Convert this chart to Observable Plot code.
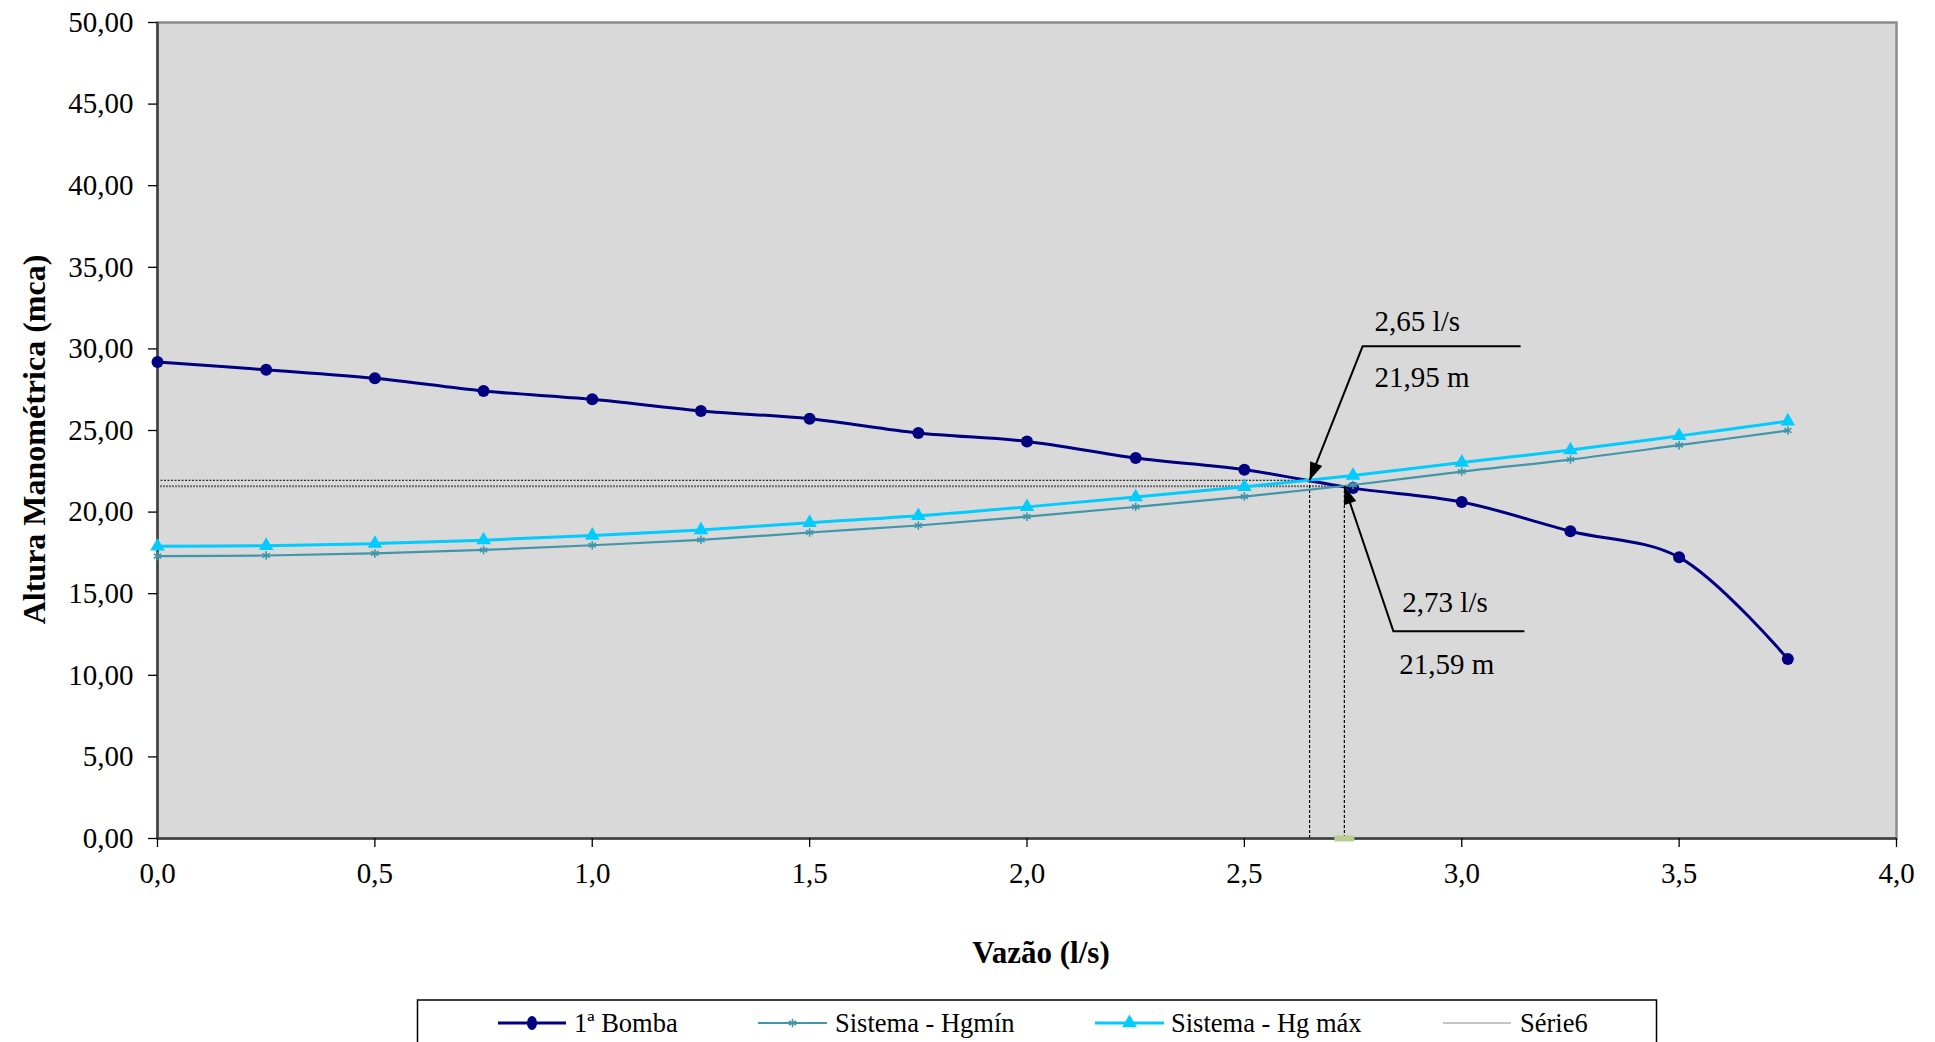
<!DOCTYPE html>
<html>
<head>
<meta charset="utf-8">
<script src="https://cdn.jsdelivr.net/npm/d3@7"></script>
<script src="https://cdn.jsdelivr.net/npm/@observablehq/plot@0.6"></script>
<style>
  html, body { margin: 0; padding: 0; background: #fff; }
  #chart svg { display: block; }
</style>
</head>
<body>
<div id="chart"></div>
<script>
// Flow rate (l/s) at which each curve was evaluated
const vazao = [0, 0.25, 0.5, 0.75, 1.0, 1.25, 1.5, 1.75, 2.0, 2.25, 2.5, 2.75, 3.0, 3.25, 3.5, 3.75];
// Pump head curve (mca)
const bomba = [29.20, 28.72, 28.20, 27.42, 26.91, 26.20, 25.72, 24.85, 24.33, 23.31, 22.60, 21.47, 20.62, 18.83, 17.23, 11.00];
// System curve, minimum geometric head (mca)
const hgMin = [17.30, 17.34, 17.47, 17.68, 17.97, 18.30, 18.75, 19.18, 19.72, 20.32, 20.95, 21.66, 22.48, 23.22, 24.10, 25.00];
// System curve, maximum geometric head (mca)
const hgMax = [17.90, 17.94, 18.07, 18.28, 18.57, 18.90, 19.35, 19.77, 20.32, 20.92, 21.55, 22.24, 23.04, 23.80, 24.67, 25.57];

// Operating points (pump x system intersections)
const opQ = [2.65, 2.73];
const opH = [21.95, 21.59];
const opQLabels = ["2,65 l/s", "2,73 l/s"];
const opHLabels = ["21,95 m", "21,59 m"];

// Axis ticks
const xTicks = [0, 0.5, 1.0, 1.5, 2.0, 2.5, 3.0, 3.5, 4.0];
const yTicks = [0, 5, 10, 15, 20, 25, 30, 35, 40, 45, 50];

const seriesNames = ["1ª Bomba", "Sistema - Hgmín", "Sistema - Hg máx", "Série6"];
const xTitle = "Vazão (l/s)";
const yTitle = "Altura Manométrica (mca)";

// ---- tables for the marks ----
const rows = vazao.map((q, i) => ({q, bomba: bomba[i], hgMin: hgMin[i], hgMax: hgMax[i]}));
const ops = opQ.map((q, i) => ({q, h: opH[i], qLabel: opQLabels[i], hLabel: opHLabels[i]}));

// ---- styling ----
const C_BOMBA = "#000080";
const C_MIN = "#4096aa";
const C_MAX = "#00ccff";
const SERIF = '"Liberation Serif", "Times New Roman", serif';
const comma = (d, n) => d.toFixed(n).replace(".", ",");

// Leader geometry of each operating-point callout, in pixels from the point
const callouts = [
  {knee: [53, -134], end: [211, -134], t1: [65, -159], t2: [65, -103]},
  {knee: [49, 145], end: [180, 145], t1: [58, 117], t2: [55, 179]}
];

// Custom symbols: a polyline leader and a filled arrowhead with its tip at the point
const polylineSymbol = pts => ({
  draw(ctx) {
    ctx.moveTo(0, 0);
    for (const [px, py] of pts) ctx.lineTo(px, py);
  }
});
const arrowHeadSymbol = ([kx, ky], L = 18, W = 6.5) => ({
  draw(ctx) {
    const len = Math.hypot(kx, ky), ux = kx / len, uy = ky / len;
    const bx = ux * L, by = uy * L;
    ctx.moveTo(0, 0);
    ctx.lineTo(bx - uy * W, by + ux * W);
    ctx.lineTo(bx + uy * W, by - ux * W);
    ctx.closePath();
  }
});
const flatMarker = {draw(ctx) { ctx.rect(-10, -3, 20, 6); }};

const calloutMarks = ops.flatMap((op, i) => {
  const c = callouts[i];
  return [
    Plot.dot([op], {x: "q", y: "h", symbol: polylineSymbol([c.knee, c.end]), fill: "none", stroke: "black", strokeWidth: 2, r: 5}),
    Plot.dot([op], {x: "q", y: "h", symbol: arrowHeadSymbol(c.knee), fill: "black", stroke: "none", r: 5}),
    Plot.text([op], {x: "q", y: "h", text: "qLabel", dx: c.t1[0], dy: c.t1[1], textAnchor: "start", lineAnchor: "middle", fontSize: 29, fill: "black"}),
    Plot.text([op], {x: "q", y: "h", text: "hLabel", dx: c.t2[0], dy: c.t2[1], textAnchor: "start", lineAnchor: "middle", fontSize: 29, fill: "black"})
  ];
});

const chart = Plot.plot({
  width: 1935,
  height: 990,
  marginTop: 22,
  marginBottom: 152,
  marginLeft: 157,
  marginRight: 39,
  style: {fontFamily: SERIF, fontSize: "29px", background: "#fff", color: "#000", overflow: "visible"},
  x: {domain: [0, 4], label: null},
  y: {domain: [0, 50], label: null},
  marks: [
    Plot.frame({fill: "#d9d9d9", stroke: "#8c8c8c", strokeWidth: 2.5}),
    // Série6: guide lines down and across from each operating point
    Plot.ruleY([ops[0]], {y: "h", x1: 0, x2: "q", stroke: "#000", strokeWidth: 1, strokeDasharray: "2,1.5"}),
    Plot.ruleY([ops[1]], {y: "h", x1: 0, x2: "q", stroke: "#6e6e6e", strokeWidth: 2, strokeDasharray: "2,1"}),
    Plot.ruleX(ops, {x: "q", y1: 0, y2: "h", stroke: "#000", strokeWidth: 1.2, strokeDasharray: "3,2"}),
    // axis lines
    Plot.ruleX([0], {stroke: "#404040", strokeWidth: 2.5}),
    Plot.ruleY([0], {stroke: "#404040", strokeWidth: 2.5}),
    Plot.axisY({ticks: yTicks, tickSize: 9, tickPadding: 15, tickFormat: d => comma(d, 2), label: null, strokeWidth: 1.3}),
    Plot.axisX({ticks: xTicks, tickSize: 9, tickPadding: 15, tickFormat: d => comma(d, 1), label: null, strokeWidth: 1.3}),
    // curves
    Plot.line(rows, {x: "q", y: "bomba", curve: "catmull-rom", stroke: C_BOMBA, strokeWidth: 3}),
    Plot.dot(rows, {x: "q", y: "bomba", r: 6, fill: C_BOMBA, stroke: "none"}),
    Plot.line(rows, {x: "q", y: "hgMin", curve: "catmull-rom", stroke: C_MIN, strokeWidth: 2.2}),
    Plot.dot(rows, {x: "q", y: "hgMin", symbol: "asterisk", r: 4, stroke: C_MIN, strokeWidth: 1.6}),
    Plot.line(rows, {x: "q", y: "hgMax", curve: "catmull-rom", stroke: C_MAX, strokeWidth: 3}),
    Plot.dot(rows, {x: "q", y: "hgMax", symbol: "triangle", r: 5.4, fill: C_MAX, stroke: "none"}),
    // Série6 marker on the axis
    Plot.dot([ops[1]], {x: "q", y: 0, symbol: flatMarker, fill: "#b5d092", stroke: "none", r: 5}),
    ...calloutMarks,
    // axis titles
    Plot.text([xTitle], {frameAnchor: "bottom", dx: 14, dy: 115, textAnchor: "middle", lineAnchor: "middle", fontWeight: "bold", fontSize: 31, fill: "#000"}),
    Plot.text([yTitle], {frameAnchor: "left", dx: -123, dy: 9, rotate: -90, textAnchor: "middle", lineAnchor: "middle", fontWeight: "bold", fontSize: 32, fill: "#000"})
  ]
});
document.getElementById("chart").appendChild(chart);

// ---- legend below the chart ----
const legend = d3.select("#chart").append("svg")
  .attr("width", 1935).attr("height", 52)
  .style("display", "block");
legend.append("rect")
  .attr("x", 417.5).attr("y", 10).attr("width", 1239).attr("height", 60)
  .attr("fill", "#fff").attr("stroke", "#000").attr("stroke-width", 1.5);

const ly = 33;
const legendItems = [
  {x0: 498, x1: 566, tx: 574, color: C_BOMBA, width: 3, marker: "circle"},
  {x0: 758, x1: 827, tx: 835, color: C_MIN, width: 2.2, marker: "asterisk"},
  {x0: 1095, x1: 1164, tx: 1171, color: C_MAX, width: 3, marker: "triangle"},
  {x0: 1443, x1: 1511, tx: 1520, color: "#8a8a8a", width: 1, marker: null}
];
legendItems.forEach((it, i) => {
  const g = legend.append("g");
  g.append("line").attr("x1", it.x0).attr("x2", it.x1).attr("y1", ly).attr("y2", ly)
    .attr("stroke", it.color).attr("stroke-width", it.width);
  const cx = (it.x0 + it.x1) / 2;
  if (it.marker === "circle") {
    g.append("ellipse").attr("cx", cx).attr("cy", ly).attr("rx", 5).attr("ry", 7).attr("fill", it.color);
  } else if (it.marker === "asterisk") {
    g.append("path").attr("transform", `translate(${cx},${ly})`)
      .attr("d", d3.symbol(d3.symbolAsterisk, 50)()).attr("fill", "none")
      .attr("stroke", it.color).attr("stroke-width", 1.6);
  } else if (it.marker === "triangle") {
    g.append("path").attr("transform", `translate(${cx},${ly})`)
      .attr("d", d3.symbol(d3.symbolTriangle, 95)()).attr("fill", it.color);
  }
  g.append("text").attr("x", it.tx).attr("y", ly).attr("dy", "0.33em")
    .attr("font-family", SERIF).attr("font-size", 26.5).attr("fill", "#000")
    .text(seriesNames[i]);
});
</script>
</body>
</html>
